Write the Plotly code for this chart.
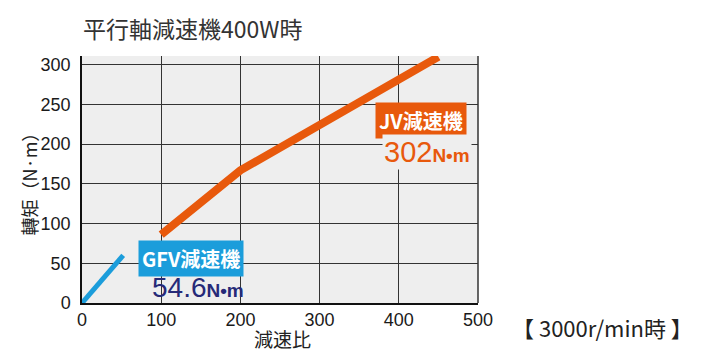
import plotly.graph_objects as go

# Data
jv_ratio = [100, 200, 450]
jv_torque = [86, 167, 310]
gfv_ratio = [0, 52]
gfv_torque = [0, 60]
x_ticks = [0, 100, 200, 300, 400, 500]
y_ticks = [0, 50, 100, 150, 200, 250, 300]

TICK_FONT = dict(family="Liberation Sans, Arial, sans-serif", size=18, color="#1a1a1a")
CJK = "Noto Sans CJK JP, Noto Sans CJK TC, sans-serif"
NUM = "Liberation Sans, Arial, sans-serif"

fig = go.Figure()
fig.add_trace(go.Scatter(x=gfv_ratio, y=gfv_torque, mode="lines",
                         line=dict(color="#1b9ddb", width=5), showlegend=False, hoverinfo="skip"))
fig.add_trace(go.Scatter(x=jv_ratio, y=jv_torque, mode="lines",
                         line=dict(color="#e8590c", width=8), showlegend=False, hoverinfo="skip"))

fig.update_layout(
    width=701, height=358,
    margin=dict(l=74, r=231, t=48, b=63, autoexpand=False),
    paper_bgcolor="white", plot_bgcolor="#eeeeee",
    xaxis=dict(range=[0, 500], tickvals=x_ticks, ticktext=[str(v) for v in x_ticks],
               showgrid=True, gridcolor="#333333", gridwidth=1,
               showline=True, linecolor="#111111", linewidth=1.5,
               zeroline=False, ticks="", tickfont=TICK_FONT, ticklabelstandoff=0,
               automargin=False),
    yaxis=dict(range=[0, 311], tickvals=y_ticks, ticktext=[str(v) for v in y_ticks],
               showgrid=True, gridcolor="#333333", gridwidth=1,
               showline=True, linecolor="#111111", linewidth=1.5,
               zeroline=False, ticks="", tickfont=TICK_FONT, ticklabelstandoff=6,
               automargin=False),
)

# right border
fig.add_shape(type="line", xref="paper", yref="paper", x0=1, x1=1, y0=0, y1=1,
              line=dict(color="#333333", width=1.5))

# title
fig.add_annotation(xref="paper", yref="paper", x=-0.002, y=1.113, xanchor="left", yanchor="middle",
                   showarrow=False, text="平行軸減速機400W時",
                   font=dict(family=CJK, size=23, color="#333333"))
# axis titles
fig.add_annotation(xref="paper", yref="paper", x=-0.134, y=0.5, xanchor="center", yanchor="middle",
                   showarrow=False, text="轉矩（N·m）", textangle=-90,
                   font=dict(family=CJK, size=18, color="#222"))
fig.add_annotation(xref="paper", yref="paper", x=0.507, y=-0.142, xanchor="center", yanchor="middle",
                   showarrow=False, text="減速比",
                   font=dict(family=CJK, size=19, color="#222"))

# JV label
fig.add_annotation(x=428, y=230, xref="x", yref="y", showarrow=False,
                   text="<b>JV減速機</b>", bgcolor="#e8590c", borderpad=3,
                   font=dict(family=CJK, size=20, color="white"))
fig.add_annotation(x=435, y=190, xref="x", yref="y", showarrow=False,
                   text="302<span style='font-size:19px'><b>N•m</b></span>", bgcolor="#eeeeee",
                   font=dict(family=NUM, size=29, color="#e8590c"))
# GFV label
fig.add_annotation(x=137, y=55.5, xref="x", yref="y", showarrow=False,
                   text="<b>GFV減速機</b>", bgcolor="#1b9ddb", borderpad=3,
                   font=dict(family=CJK, size=20, color="white"))
fig.add_annotation(x=147, y=19, xref="x", yref="y", showarrow=False,
                   text="54.6<span style='font-size:19px'><b>N•m</b></span>",
                   font=dict(family=NUM, size=28, color="#262a78"))

fig.add_annotation(xref="paper", yref="paper", x=1.082, y=-0.097, xanchor="left", yanchor="middle",
                   showarrow=False, text="【 3000r/min時 】",
                   font=dict(family=CJK, size=22, color="#222"))

fig.write_html("out.html")
